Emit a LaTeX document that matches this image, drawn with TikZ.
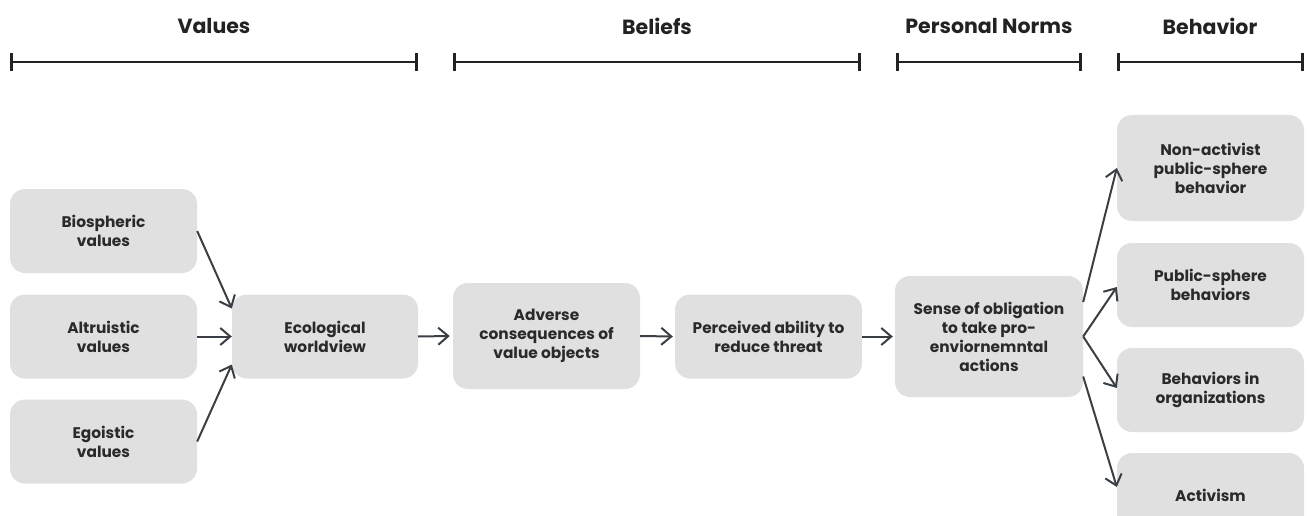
\documentclass[tikz,border=0pt]{standalone}
\usepackage{fontspec}
\setmainfont{Poppins}
\usetikzlibrary{arrows.meta}
\definecolor{boxfill}{HTML}{E0E0E0}
\definecolor{ink}{HTML}{2A2A2A}
\definecolor{wire}{HTML}{3A3F45}
\definecolor{rule}{HTML}{222222}
\begin{document}
\begin{tikzpicture}[x=1pt,y=-1pt,
  box/.style={fill=boxfill, rounded corners=15pt, inner sep=0pt, text=ink,
    font=\bfseries\fontsize{15.4}{19}\selectfont, align=center},
  head/.style={text=rule, font=\bfseries\fontsize{20.5}{24}\selectfont},
  span/.style={draw=rule, line width=2.2pt, {Bar[width=18pt,line width=3pt]}-{Bar[width=18pt,line width=3pt]}},
  link/.style={draw=wire, line width=2pt, -{Straight Barb[length=10pt,width=17pt,line width=2pt]}}]
\useasboundingbox (0,0) rectangle (1309,516);

% stage headings and their spans
\node[head] (hval) at (214,26) {Values};
\node[head] (hbel) at (657,26) {Beliefs};
\node[head] (hnor) at (989,26) {Personal Norms};
\node[head] (hbeh) at (1210,26) {Behavior};
\draw[span] (10,62) -- (418,62);
\draw[span] (453,62) -- (861,62);
\draw[span] (896,62) -- (1082,62);
\draw[span] (1117,62) -- (1304,62);

% value boxes
\node[box, minimum width=187pt, minimum height=84pt] (bio) at (103.5,231) {Biospheric\\values};
\node[box, minimum width=187pt, minimum height=84pt] (alt) at (103.5,336.5) {Altruistic\\values};
\node[box, minimum width=187pt, minimum height=84pt] (ego) at (103.5,441.5) {Egoistic\\values};
\node[box, minimum width=186pt, minimum height=84pt] (eco) at (325,336.5) {Ecological\\worldview};

% belief boxes
\node[box, minimum width=187pt, minimum height=106pt] (adv) at (546.5,336) {Adverse\\consequences of\\value objects};
\node[box, minimum width=187pt, minimum height=84pt] (per) at (768.5,336.5) {Perceived ability to\\reduce threat};

% norm box
\node[box, minimum width=188pt, minimum height=121pt] (obl) at (989,336.5) {Sense of obligation\\to take pro-\\enviornemntal\\actions};

% behaviour boxes
\node[box, minimum width=187pt, minimum height=106pt] (nap) at (1210.5,168) {Non-activist\\public-sphere\\behavior};
\node[box, minimum width=187pt, minimum height=84pt] (pub) at (1210.5,285) {Public-sphere\\behaviors};
\node[box, minimum width=187pt, minimum height=84pt] (org) at (1210.5,390) {Behaviors in\\organizations};
\node[box, minimum width=187pt, minimum height=84pt] (act) at (1210.5,495) {Activism};

% connectors
\draw[link] (bio.east) -- ([yshift=28pt]eco.west);
\draw[link] (alt.east) -- (eco.west);
\draw[link] (ego.east) -- ([yshift=-28pt]eco.west);
\draw[link] (eco.east) -- ([xshift=-3pt]adv.west);
\draw[link] (adv.east) -- ([xshift=-2pt]per.west);
\draw[link] (per.east) -- ([xshift=-2pt]obl.west);
\draw[link] ([yshift=34.5pt]obl.east) -- (nap.west);
\draw[link] (obl.east) -- ([yshift=-2pt]pub.west);
\draw[link] (obl.east) -- ([yshift=2pt]org.west);
\draw[link] ([yshift=-40pt]obl.east) -- ([yshift=8pt]act.west);
\end{tikzpicture}
\end{document}
